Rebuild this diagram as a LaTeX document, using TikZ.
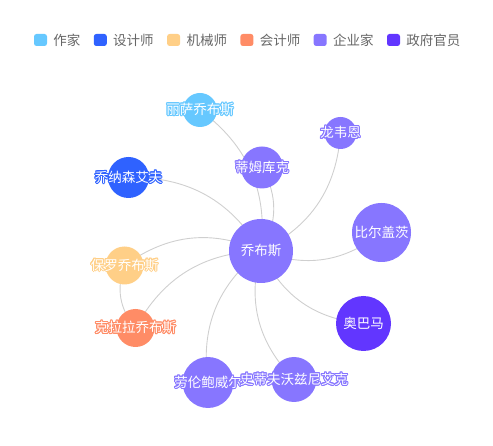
\documentclass[tikz,border=0pt]{standalone}
\usepackage{fontspec}
\setmainfont{Noto Sans CJK SC}
\usepackage{contour}
\contourlength{1pt}
\usetikzlibrary{positioning, backgrounds}
\definecolor{WriterBlue}{HTML}{66C8FF}
\definecolor{DesignBlue}{HTML}{2F62FF}
\definecolor{MechYellow}{HTML}{FFCF87}
\definecolor{AcctOrange}{HTML}{FF8C66}
\definecolor{BizPurple}{HTML}{8776FF}
\definecolor{GovViolet}{HTML}{6236FF}
\definecolor{EdgeGray}{HTML}{CFCFCF}
\definecolor{LegendGray}{HTML}{666666}
\tikzset{
  person/.style={circle, inner sep=0pt, draw=none},
  namelabel/.style={text=white, inner sep=0pt, font=\fontsize{13.5}{16}\selectfont},
  writer/.style={person, fill=WriterBlue, label={[namelabel]center:\contour{WriterBlue}{#1}}},
  designer/.style={person, fill=DesignBlue, label={[namelabel]center:\contour{DesignBlue}{#1}}},
  mechanic/.style={person, fill=MechYellow, label={[namelabel]center:\contour{MechYellow}{#1}}},
  accountant/.style={person, fill=AcctOrange, label={[namelabel]center:\contour{AcctOrange}{#1}}},
  founder/.style={person, fill=BizPurple, label={[namelabel]center:\contour{BizPurple}{#1}}},
  official/.style={person, fill=GovViolet, label={[namelabel]center:\contour{GovViolet}{#1}}},
  link/.style={draw=EdgeGray, line width=0.9pt},
  legendkey/.style={rounded corners=2.5pt, minimum width=13pt, minimum height=12pt, inner sep=0pt},
  legendtext/.style={text=LegendGray, inner sep=0pt, font=\fontsize{13.5}{16}\selectfont}
}

\begin{document}
\begin{tikzpicture}[x=1pt, y=1pt]
\useasboundingbox (0,0) rectangle (493,-446);
% legend
\node[legendkey, fill=WriterBlue] (k1) at (40.5,-40) {};
\node[legendtext, right=6pt of k1] (t1) {作家};
\node[legendkey, fill=DesignBlue, right=13pt of t1] (k2) {};
\node[legendtext, right=6pt of k2] (t2) {设计师};
\node[legendkey, fill=MechYellow, right=13pt of t2] (k3) {};
\node[legendtext, right=6pt of k3] (t3) {机械师};
\node[legendkey, fill=AcctOrange, right=13pt of t3] (k4) {};
\node[legendtext, right=6pt of k4] (t4) {会计师};
\node[legendkey, fill=BizPurple, right=13pt of t4] (k5) {};
\node[legendtext, right=6pt of k5] (t5) {企业家};
\node[legendkey, fill=GovViolet, right=13pt of t5] (k6) {};
\node[legendtext, right=6pt of k6] (t6) {政府官员};
% people
\node[founder={乔布斯}, minimum size=64pt] (jobs) at (261,-251) {};
\node[writer={丽萨乔布斯}, minimum size=34pt] (lisa) at (200,-110) {};
\node[founder={蒂姆库克}, minimum size=42pt] (cook) at (262,-167.5) {};
\node[designer={乔纳森艾夫}, minimum size=41pt] (ive) at (128.5,-177.5) {};
\node[founder={龙韦恩}, minimum size=32pt] (wayne) at (340.5,-133) {};
\node[founder={比尔盖茨}, minimum size=59pt] (gates) at (381.5,-232.5) {};
\node[mechanic={保罗乔布斯}, minimum size=38pt] (paul) at (124.5,-265.5) {};
\node[accountant={克拉拉乔布斯}, minimum size=38pt] (clara) at (135.5,-328) {};
\node[official={奥巴马}, minimum size=55pt] (obama) at (363.5,-323.5) {};
\node[founder={劳伦鲍威尔}, minimum size=51pt] (laurene) at (208,-382.5) {};
\node[founder={史蒂夫沃兹尼艾克}, minimum size=45pt] (woz) at (294,-379.5) {};
% links
\begin{scope}[on background layer]
\draw[link] (jobs.center) to[bend right=30] (lisa.center);
\draw[link] (jobs.center) to[bend right=30] (cook.center);
\draw[link] (jobs.center) to[bend right=30] (ive.center);
\draw[link] (jobs.center) to[bend right=30] (wayne.center);
\draw[link] (jobs.center) to[bend right=30] (gates.center);
\draw[link] (jobs.center) to[bend right=30] (obama.center);
\draw[link] (jobs.center) to[bend right=30] (woz.center);
\draw[link] (jobs.center) to[bend right=30] (laurene.center);
\draw[link] (jobs.center) to[bend right=30] (clara.center);
\draw[link] (jobs.center) to[bend right=30] (paul.center);
\draw[link] (paul.center) to[bend right=30] (clara.center);
\end{scope}
\end{tikzpicture}
\end{document}
